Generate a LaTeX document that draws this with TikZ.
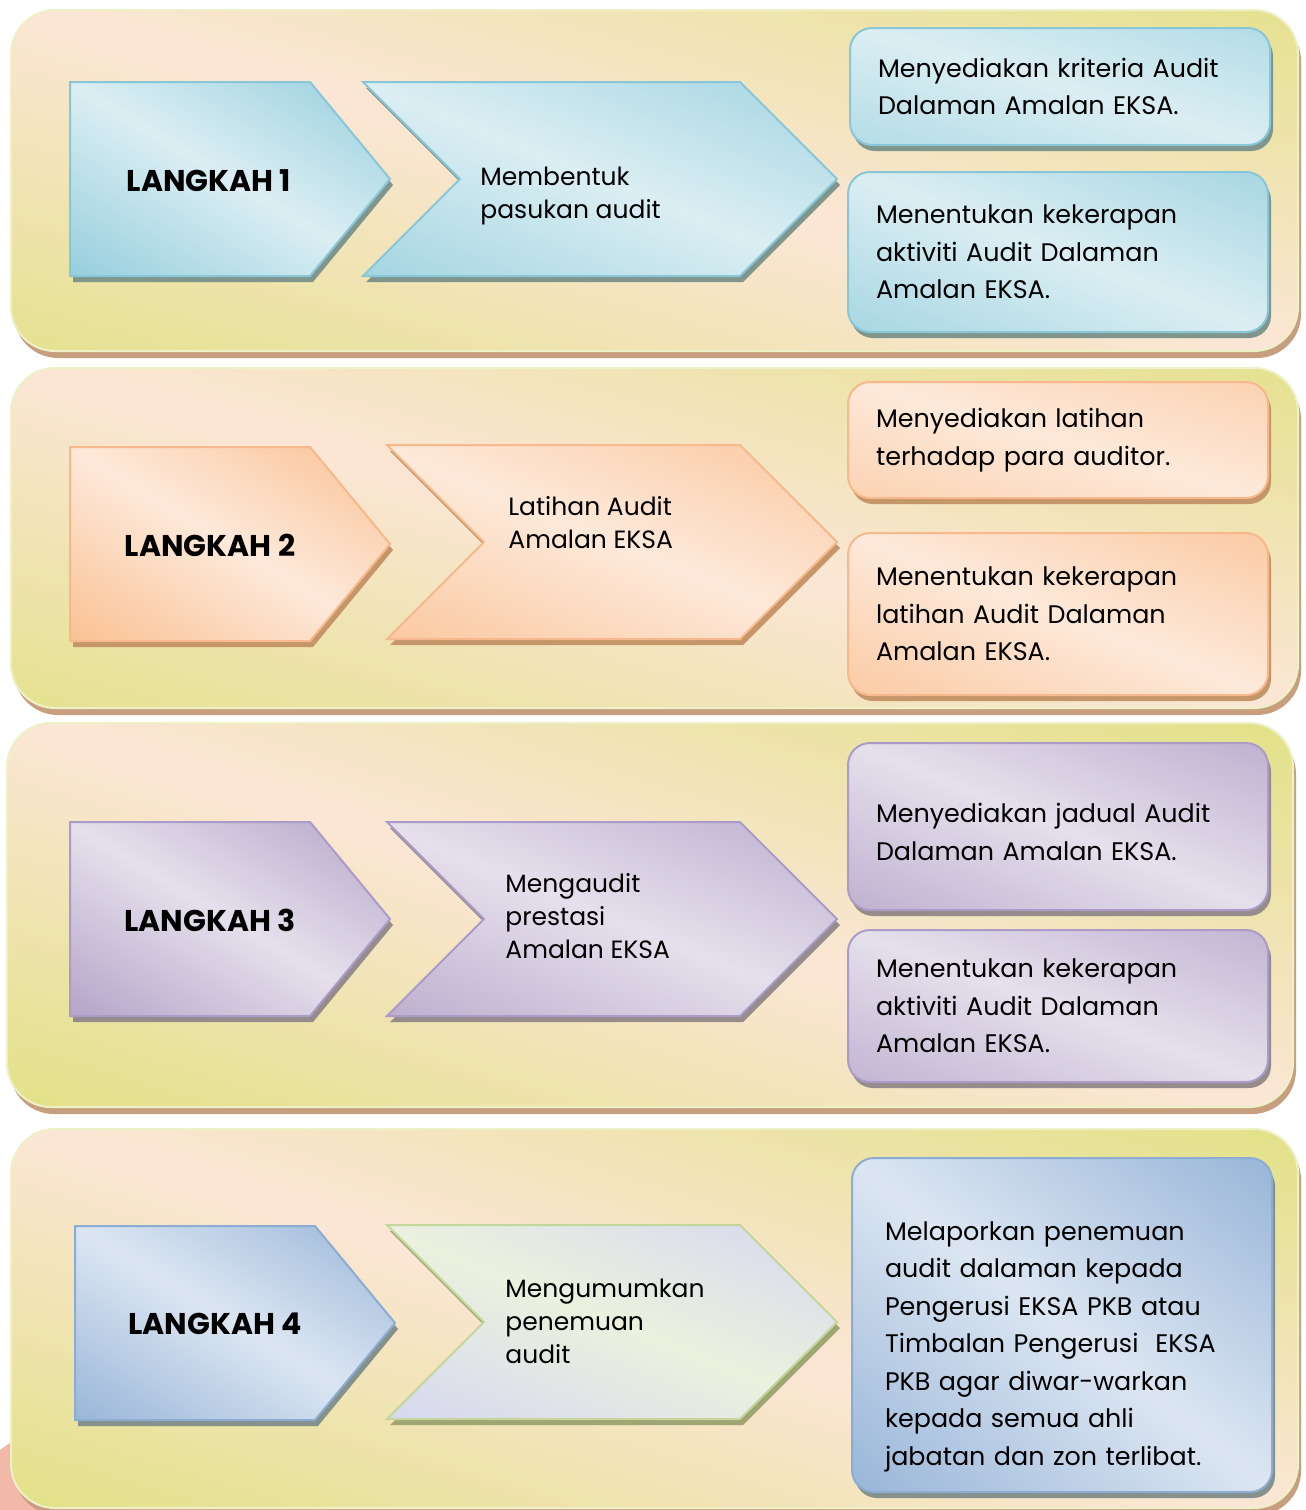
\documentclass[tikz,border=0pt]{standalone}
\usepackage{fontspec}
\setmainfont{Poppins}
\usetikzlibrary{shadows}

\definecolor{peach}{RGB}{251,230,214}
\definecolor{lime}{RGB}{208,222,78}
\definecolor{panelrim}{RGB}{238,240,200}
\definecolor{panelshade}{RGB}{200,159,126}
\definecolor{salmon}{RGB}{242,184,168}
\definecolor{skydark}{RGB}{146,205,220}
\definecolor{skylight}{RGB}{219,238,243}
\definecolor{skyrim}{RGB}{136,198,216}
\definecolor{skyshade}{RGB}{128,150,140}
\definecolor{coraldark}{RGB}{250,191,143}
\definecolor{corallight}{RGB}{253,233,218}
\definecolor{coralrim}{RGB}{246,184,140}
\definecolor{coralshade}{RGB}{196,150,105}
\definecolor{lilacdark}{RGB}{178,161,199}
\definecolor{lilaclight}{RGB}{229,224,236}
\definecolor{lilacrim}{RGB}{172,155,200}
\definecolor{lilacshade}{RGB}{150,140,140}
\definecolor{steeldark}{RGB}{149,179,215}
\definecolor{steellight}{RGB}{220,230,242}
\definecolor{steelrim}{RGB}{140,172,212}
\definecolor{steelshade}{RGB}{133,145,138}
\definecolor{mintlight}{RGB}{235,241,222}
\definecolor{lavender}{RGB}{208,208,245}
\definecolor{mintrim}{RGB}{195,214,155}
\definecolor{mintshade}{RGB}{160,165,115}

\newcommand{\homeplate}[3]{
	\path[#3] (#1,#2) -- ++(240,0) -- ++(80,97) -- ++(-80,97) -- ++(-240,0) -- cycle;
}
\newcommand{\chevron}[4]{
	\path[#4] (#1,#2) -- ++(#3,0) -- ++(97,97) -- ++(-97,97) -- ++(-#3,0) -- ++(97,-97) -- cycle;
}

\tikzset{
	% dark colour, light colour, turn of the light streak, half width of the streak
	gloss/.style n args={4}{fill=#1, path picture={
		\shade[left color=#1, right color=#1, middle color=#2,
			transform canvas={rotate around={#3:(path picture bounding box.center)}}]
			(path picture bounding box.center) ++(-#4,-900) rectangle ++(2*#4,1800);}},
	shadowed/.style={drop shadow={shadow xshift=1.5pt, shadow yshift=-3pt, fill=#1, opacity=1}},
	panel/.style 2 args={rounded corners=22pt, gloss={lime}{peach}{#1}{#2}, draw=panelrim, line width=1pt,
		drop shadow={shadow xshift=1.5pt, shadow yshift=-3.5pt, fill=panelshade, opacity=1}},
	sky/.style 2 args={gloss={skydark}{skylight}{#1}{#2}, draw=skyrim, line width=1pt, shadowed=skyshade},
	coral/.style 2 args={gloss={coraldark}{corallight}{#1}{#2}, draw=coralrim, line width=1pt, shadowed=coralshade},
	lilac/.style 2 args={gloss={lilacdark}{lilaclight}{#1}{#2}, draw=lilacrim, line width=1pt, shadowed=lilacshade},
	steel/.style 2 args={gloss={steeldark}{steellight}{#1}{#2}, draw=steelrim, line width=1pt, shadowed=steelshade},
	mint/.style 2 args={gloss={lavender}{mintlight}{#1}{#2}, draw=mintrim, line width=1pt, shadowed=mintshade},
	infobox/.style={rounded corners=11pt, minimum width=210pt, text width=182pt,
		inner xsep=14pt, align=left, font=\fontsize{12.7}{18.75}\selectfont},
	steplabel/.style={inner sep=0pt, font=\bfseries\fontsize{15}{18}\selectfont},
	tasklabel/.style={anchor=west, align=left, inner sep=0pt, font=\fontsize{12.5}{16.5}\selectfont}
}

\begin{document}
\begin{tikzpicture}[x=0.5pt,y=-0.5pt]
	\useasboundingbox (0,0) rectangle (1306,1510);
	\fill[white] (0,0) rectangle (1306,1510);
	\fill[salmon] (150,1650) circle (250);

	% the four bands
	\node[panel={75}{338}, minimum width=643.5pt, minimum height=170.5pt] (band1) at (654.5,180.5) {};
	\node[panel={75}{338}, minimum width=643.5pt, minimum height=170pt] (band2) at (654.5,538) {};
	\node[panel={73}{372}, minimum width=643pt, minimum height=192pt] (band3) at (650,915) {};
	\node[panel={73}{372}, minimum width=643.5pt, minimum height=189.5pt] (band4) at (654.5,1318.5) {};

	% langkah 1
	\homeplate{70}{82}{sky={59}{175}}
	\chevron{363}{82}{377}{sky={68}{190}}
	\node[steplabel] (step1) at (209,181) {LANGKAH 1};
	\node[tasklabel] (task1) at (480,196) {Membentuk\\pasukan audit};
	\node[infobox, sky={74}{122}, minimum height=58.5pt] (info1a) at (1060,86.5)
		{Menyediakan kriteria Audit\\Dalaman Amalan EKSA.};
	\node[infobox, sky={69}{160}, minimum height=80pt] (info1b) at (1058,252)
		{Menentukan kekerapan\\aktiviti Audit Dalaman\\Amalan EKSA.};

	% langkah 2
	\homeplate{70}{447}{coral={59}{175}}
	\chevron{387}{445}{353}{coral={68}{190}}
	\node[steplabel] (step2) at (210,545) {LANGKAH 2};
	\node[tasklabel] (task2) at (508,523) {Latihan Audit\\Amalan EKSA};
	\node[infobox, coral={74}{122}, minimum height=58pt] (info2a) at (1058,440)
		{Menyediakan latihan\\terhadap para auditor.};
	\node[infobox, coral={69}{160}, minimum height=81pt] (info2b) at (1058,614)
		{Menentukan kekerapan\\latihan Audit Dalaman\\Amalan EKSA.};

	% langkah 3
	\homeplate{70}{822}{lilac={59}{175}}
	\chevron{387}{822}{353}{lilac={68}{190}}
	\node[steplabel] (step3) at (210,920) {LANGKAH 3};
	\node[tasklabel] (task3) at (505,916) {Mengaudit\\prestasi\\Amalan EKSA};
	\node[infobox, lilac={68}{165}, minimum height=83.5pt] (info3a) at (1058,826.5)
		{\rule{0pt}{15pt}Menyediakan jadual Audit\\Dalaman Amalan EKSA.};
	\node[infobox, lilac={70}{152}, minimum height=76pt] (info3b) at (1058,1006)
		{Menentukan kekerapan\\aktiviti Audit Dalaman\\Amalan EKSA.};

	% langkah 4
	\homeplate{75}{1226}{steel={59}{175}}
	\chevron{387}{1225}{353}{mint={68}{190}}
	\node[steplabel] (step4) at (215,1324) {LANGKAH 4};
	\node[tasklabel] (task4) at (505,1321) {Mengumumkan\\penemuan\\audit};
	\node[infobox, steel={52}{272}, minimum height=167pt, inner xsep=16.5pt, text width=177pt] (info4) at (1062,1325)
		{\rule{0pt}{31pt}Melaporkan penemuan\\audit dalaman kepada\\Pengerusi EKSA PKB atau\\Timbalan Pengerusi\ \ EKSA\\PKB agar diwar-warkan\\kepada semua ahli\\jabatan dan zon terlibat.};
\end{tikzpicture}
\end{document}
